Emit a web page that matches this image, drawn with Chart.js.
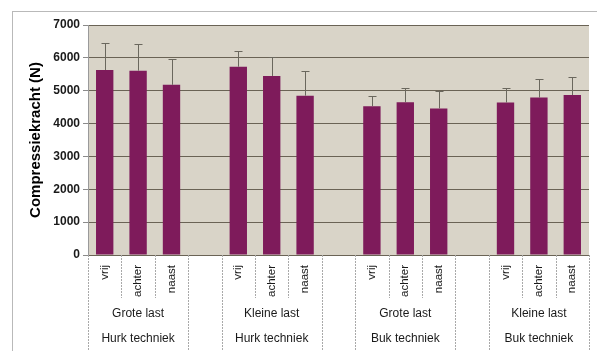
<!DOCTYPE html>
<html>
<head>
<meta charset="utf-8">
<script src="https://cdn.jsdelivr.net/npm/chart.js@4/dist/chart.umd.min.js"></script>
<style>
  html, body { margin: 0; padding: 0; background: #ffffff; }
  #kader { position: absolute; left: 12px; top: 11px; width: 700px; height: 400px; border: 1px solid #b9b9b9; }
  #wrap { position: absolute; left: 0; top: 0; width: 597px; height: 351px; }
</style>
</head>
<body>
<div id="kader"></div>
<div id="wrap"><canvas id="grafiek" width="597" height="351"></canvas></div>
<script>
// categorieen per staaf (lege plekken tussen de groepen)
const subLabels = ['vrij', 'achter', 'naast', '', 'vrij', 'achter', 'naast', '', 'vrij', 'achter', 'naast', '', 'vrij', 'achter', 'naast'];
const lastLabels = ['Grote last', 'Kleine last', 'Grote last', 'Kleine last'];
const techLabels = ['Hurk techniek', 'Hurk techniek', 'Buk techniek', 'Buk techniek'];

// gemiddelde compressiekracht en standaarddeviatie (N)
const gemiddelde = [5630, 5610, 5180, null, 5730, 5450, 4850, null, 4530, 4650, 4460, null, 4640, 4790, 4870];
const sd = [810, 810, 800, null, 470, 570, 760, null, 320, 440, 520, null, 450, 570, 550];

const yTicks = [0, 1000, 2000, 3000, 4000, 5000, 6000, 7000];

const groepGrootte = 3;

// achtergrond van het plotgebied
const achtergrond = {
  id: 'achtergrond',
  beforeDraw(chart) {
    const { ctx, chartArea: a } = chart;
    ctx.save();
    ctx.fillStyle = '#d9d4c8';
    ctx.fillRect(a.left, a.top, a.right - a.left, a.bottom - a.top);
    ctx.restore();
  }
};

// foutbalken (alleen naar boven)
const foutbalken = {
  id: 'foutbalken',
  afterDatasetsDraw(chart) {
    const { ctx, scales } = chart;
    const x = scales.x, y = scales.y;
    ctx.save();
    ctx.strokeStyle = '#6a675d';
    ctx.lineWidth = 1;
    gemiddelde.forEach((v, i) => {
      if (v === null) return;
      const px = Math.round(x.getPixelForValue(i)) + 0.5;
      const y0 = y.getPixelForValue(v);
      const y1 = Math.round(y.getPixelForValue(v + sd[i])) + 0.5;
      ctx.beginPath();
      ctx.moveTo(px, y0);
      ctx.lineTo(px, y1);
      ctx.moveTo(px - 4, y1);
      ctx.lineTo(px + 4, y1);
      ctx.stroke();
    });
    ctx.restore();
  }
};

// categorie-as met drie niveaus
const categorieAs = {
  id: 'categorieAs',
  afterDraw(chart) {
    const { ctx, scales } = chart;
    const x = scales.x;
    const top = chart.chartArea.bottom;
    const bodem = chart.height;
    const slot = x.width / subLabels.length;
    ctx.save();
    ctx.strokeStyle = '#a9a9a9';
    ctx.lineWidth = 1;
    ctx.setLineDash([2, 1]);

    // scheidingslijnen
    for (let i = 0; i <= subLabels.length; i++) {
      const px = Math.round(x.left + i * slot) + 0.5;
      const links = subLabels[i - 1], rechts = subLabels[i];
      const vol = i === 0 || i === subLabels.length || !links || !rechts;
      ctx.beginPath();
      ctx.moveTo(px, top);
      ctx.lineTo(px, vol ? bodem : top + 43);
      ctx.stroke();
    }
    ctx.setLineDash([]);

    // gedraaide labels
    ctx.fillStyle = '#1a1a1a';
    ctx.font = '11.5px "Liberation Sans", Arial, sans-serif';
    ctx.textAlign = 'right';
    ctx.textBaseline = 'middle';
    subLabels.forEach((lab, i) => {
      if (!lab) return;
      const px = x.getPixelForValue(i);
      ctx.save();
      ctx.translate(px, top + 10);
      ctx.rotate(-Math.PI / 2);
      ctx.fillText(lab, 0, 0);
      ctx.restore();
    });

    // groepslabels
    ctx.textAlign = 'center';
    ctx.font = '12px "Liberation Sans", Arial, sans-serif';
    lastLabels.forEach((lab, g) => {
      const start = g * (groepGrootte + 1);
      const mid = (x.getPixelForValue(start) + x.getPixelForValue(start + groepGrootte - 1)) / 2;
      ctx.fillText(lab, mid, top + 59);
      ctx.fillText(techLabels[g], mid, top + 84);
    });
    ctx.restore();
  }
};

new Chart(document.getElementById('grafiek'), {
  type: 'bar',
  data: {
    labels: subLabels,
    datasets: [{
      data: gemiddelde,
      backgroundColor: '#7e1b5b',
      barPercentage: 0.52,
      categoryPercentage: 1
    }]
  },
  options: {
    responsive: false,
    animation: false,
    layout: { padding: { top: 25, left: 14, right: 8, bottom: 0 } },
    plugins: { legend: { display: false }, tooltip: { enabled: false } },
    scales: {
      x: {
        grid: { display: false },
        border: { display: false },
        ticks: { display: false },
        afterFit(scale) { scale.height = 96; }
      },
      y: {
        min: 0,
        max: 7000,
        afterBuildTicks(scale) { scale.ticks = yTicks.map(v => ({ value: v })); },
        afterFit(scale) { scale.width = 74; },
        grid: { color: '#6a6355', lineWidth: 1, tickLength: 5, tickColor: '#8a8a8a' },
        border: { display: true, color: '#9a9a9a' },
        ticks: {
          color: '#1a1a1a',
          padding: 3,
          callback: v => String(v),
          font: { family: '"Liberation Sans", Arial, sans-serif', size: 12, weight: 'bold' }
        },
        title: {
          display: true,
          text: 'Compressiekracht (N)',
          color: '#000000',
          padding: { top: 13, bottom: 0 },
          font: { family: '"Liberation Sans", Arial, sans-serif', size: 15, weight: 'bold' }
        }
      }
    }
  },
  plugins: [achtergrond, foutbalken, categorieAs]
});
</script>
</body>
</html>
